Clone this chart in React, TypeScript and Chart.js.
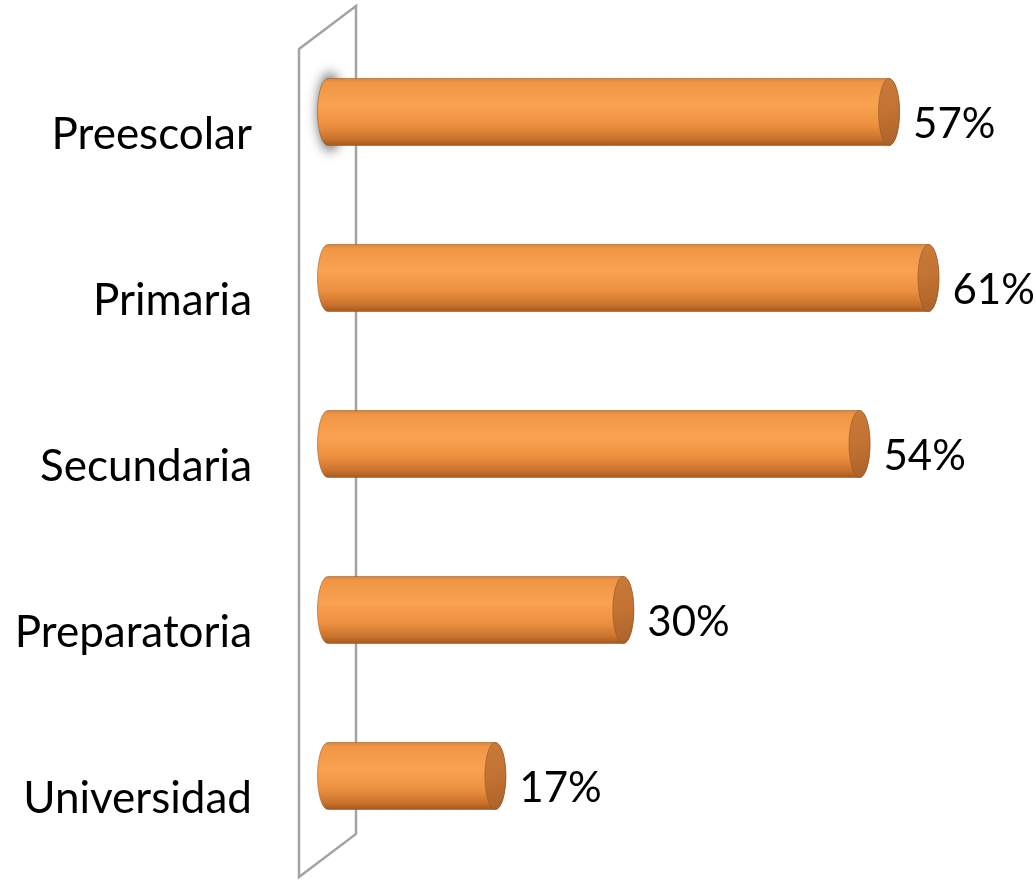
import React, { useEffect, useRef } from "react";
import { Chart, registerables } from "chart.js";

Chart.register(...registerables);

const categories = ["Preescolar", "Primaria", "Secundaria", "Preparatoria", "Universidad"];
const values = [0.57, 0.61, 0.54, 0.3, 0.17];
const valueLabels = ["57%", "61%", "54%", "30%", "17%"];
const axisMin = 0;
const axisMax = 0.7;

const WALL_DX = 57;
const WALL_DY = -43;
const BAR_DX = 29;
const BAR_DY = -20;
const CAP_RX = 10.5;
const FONT = "Lato, 'Open Sans', sans-serif";

const cylinderPlugin = {
  id: "cylinder3d",
  beforeDatasetsDraw(chart: any) {
    const { ctx, chartArea } = chart;
    const x0 = chartArea.left;
    const yTop = chartArea.top;
    const yBot = chartArea.bottom - 2;
    ctx.save();
    ctx.strokeStyle = "#A3A3A3";
    ctx.lineWidth = 2.5;
    ctx.lineJoin = "miter";
    ctx.beginPath();
    ctx.moveTo(x0, yTop);
    ctx.lineTo(x0 + WALL_DX, yTop + WALL_DY);
    ctx.lineTo(x0 + WALL_DX, yBot + WALL_DY);
    ctx.lineTo(x0, yBot);
    ctx.closePath();
    ctx.stroke();
    ctx.restore();
  },
  afterDatasetsDraw(chart: any) {
    const { ctx } = chart;
    const meta = chart.getDatasetMeta(0);
    meta.data.forEach((el: any, i: number) => {
      const p = el.getProps(["x", "y", "base", "height"], true);
      const xL = p.base + BAR_DX;
      const xR = p.x + BAR_DX;
      const yc = p.y + BAR_DY;
      const h = p.height;
      const top = yc - h / 2;
      const bot = yc + h / 2;
      const ry = h / 2;

      ctx.save();
      if (i === 0) {
        ctx.save();
        ctx.filter = "blur(6px)";
        ctx.fillStyle = "rgba(90,90,90,0.85)";
        ctx.beginPath();
        ctx.ellipse(xL + 2, yc, CAP_RX + 2, ry + 6, 0, 0, Math.PI * 2);
        ctx.fill();
        ctx.restore();
      }

      // body
      const g = ctx.createLinearGradient(0, top, 0, bot);
      g.addColorStop(0, "#DC8538");
      g.addColorStop(0.06, "#F09645");
      g.addColorStop(0.4, "#F9A24F");
      g.addColorStop(0.7, "#EC9040");
      g.addColorStop(0.9, "#C9722D");
      g.addColorStop(1, "#A55A1D");
      ctx.beginPath();
      ctx.moveTo(xL, top);
      ctx.lineTo(xR, top);
      ctx.ellipse(xR, yc, CAP_RX, ry, 0, -Math.PI / 2, Math.PI / 2, false);
      ctx.lineTo(xL, bot);
      ctx.ellipse(xL, yc, CAP_RX, ry, 0, Math.PI / 2, (3 * Math.PI) / 2, false);
      ctx.closePath();
      ctx.fillStyle = g;
      ctx.fill();
      ctx.strokeStyle = "rgba(150,85,35,0.55)";
      ctx.lineWidth = 1;
      ctx.stroke();

      // end cap
      const gc = ctx.createLinearGradient(xR - CAP_RX, top, xR + CAP_RX, bot);
      gc.addColorStop(0, "#C97A38");
      gc.addColorStop(0.5, "#C27232");
      gc.addColorStop(1, "#A9622A");
      ctx.beginPath();
      ctx.ellipse(xR, yc, CAP_RX, ry, 0, 0, Math.PI * 2);
      ctx.fillStyle = gc;
      ctx.fill();
      ctx.strokeStyle = "rgba(140,80,35,0.5)";
      ctx.stroke();

      // value label
      ctx.fillStyle = "#000000";
      ctx.font = `42px ${FONT}`;
      ctx.textAlign = "left";
      ctx.textBaseline = "alphabetic";
      ctx.fillText(valueLabels[i], xR + 24, yc + 26);
      ctx.restore();
    });
  },
};

export default function App() {
  const ref = useRef<HTMLCanvasElement | null>(null);

  useEffect(() => {
    if (!ref.current) return;
    const chart = new Chart(ref.current, {
      type: "bar",
      data: {
        labels: categories,
        datasets: [
          {
            data: values,
            backgroundColor: "rgba(0,0,0,0)",
            borderWidth: 0,
            barThickness: 67,
          },
        ],
      },
      options: {
        indexAxis: "y",
        responsive: false,
        animation: false,
        layout: { padding: { top: 49, bottom: 1, left: 0, right: 47 } },
        plugins: {
          legend: { display: false },
          tooltip: { enabled: false },
        },
        scales: {
          x: {
            display: false,
            min: axisMin,
            max: axisMax,
          },
          y: {
            border: { display: false },
            grid: { display: false, drawTicks: false },
            afterFit: (scale: any) => {
              scale.width = 299;
              scale.paddingTop = 0;
              scale.paddingBottom = 0;
            },
            ticks: {
              padding: 47,
              labelOffset: 3,
              color: "#000000",
              font: { family: FONT, size: 44 },
            },
          },
        },
      },
      plugins: [cylinderPlugin],
    });
    return () => chart.destroy();
  }, []);

  return (
    <div style={{ position: "absolute", left: 0, top: 0, width: 1035, height: 880, background: "#ffffff" }}>
      <canvas ref={ref} width={1035} height={880} style={{ display: "block" }} />
    </div>
  );
}
